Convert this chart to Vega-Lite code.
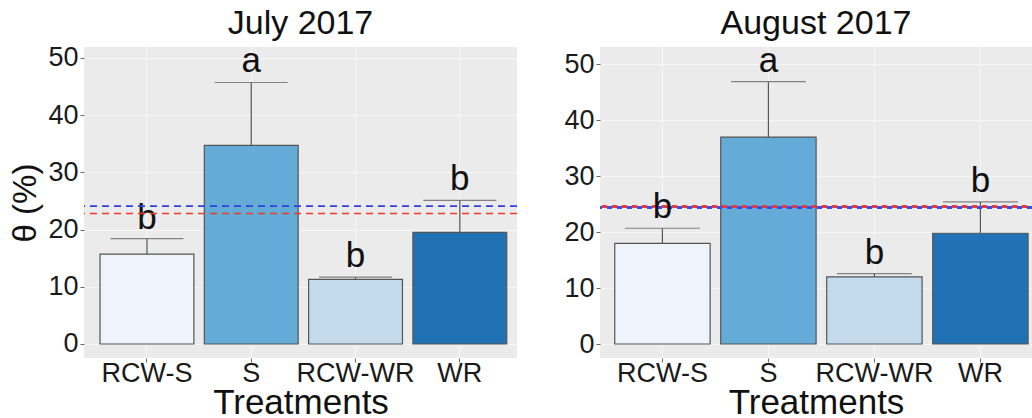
{
  "$schema": "https://vega.github.io/schema/vega-lite/v6.json",
  "background": "white",
  "padding": {"left": 9, "top": 6, "right": 0, "bottom": 0},
  "spacing": 45,
  "config": {
    "font": "Liberation Sans",
    "view": {"fill": "#ebebeb", "stroke": null},
    "axis": {
      "labelFont": "Liberation Sans",
      "labelFontSize": 27,
      "labelColor": "#1a1a1a",
      "tickColor": "#666666",
      "tickSize": 4,
      "domain": false,
      "gridColor": "#f6f6f6",
      "gridWidth": 1,
      "titleFont": "Liberation Sans",
      "titleFontWeight": "normal",
      "titleFontSize": 35,
      "titleColor": "#111111",
      "labelPadding": 2
    },
    "axisX": {"labelAngle": 0, "labelPadding": -2, "titlePadding": -1},
    "axisY": {"titlePadding": 5, "titleFontSize": 33},
    "title": {
      "font": "Liberation Sans",
      "fontSize": 34,
      "fontWeight": "normal",
      "color": "#111111",
      "anchor": "middle",
      "offset": 3
    }
  },
  "datasets": {
    "bars": [
      {"month": "July 2017", "treatment": "RCW-S", "theta": 15.7, "upper": 18.4, "group": "b"},
      {"month": "July 2017", "treatment": "S", "theta": 34.7, "upper": 45.7, "group": "a"},
      {"month": "July 2017", "treatment": "RCW-WR", "theta": 11.3, "upper": 11.7, "group": "b"},
      {"month": "July 2017", "treatment": "WR", "theta": 19.5, "upper": 25.1, "group": "b"},
      {"month": "August 2017", "treatment": "RCW-S", "theta": 18.0, "upper": 20.7, "group": "b"},
      {"month": "August 2017", "treatment": "S", "theta": 37.0, "upper": 46.9, "group": "a"},
      {"month": "August 2017", "treatment": "RCW-WR", "theta": 12.0, "upper": 12.6, "group": "b"},
      {"month": "August 2017", "treatment": "WR", "theta": 19.8, "upper": 25.4, "group": "b"}
    ],
    "refs": [
      {"month": "July 2017", "series": "blue", "theta": 24.1},
      {"month": "July 2017", "series": "red", "theta": 22.8},
      {"month": "August 2017", "series": "blue", "theta": 24.4},
      {"month": "August 2017", "series": "red", "theta": 24.6}
    ]
  },
  "hconcat": [
    {
      "title": "July 2017",
      "width": 433,
      "height": 311,
      "layer": [
        {
          "data": {"name": "bars"},
          "transform": [{"filter": "datum.month === 'July 2017'"}],
          "mark": {"type": "bar", "stroke": "#555555", "strokeWidth": 1.2},
          "encoding": {
            "x": {
              "field": "treatment", "type": "nominal",
              "sort": ["RCW-S", "S", "RCW-WR", "WR"],
              "scale": {"paddingInner": 0.1, "paddingOuter": 0.126, "align": 0.61},
              "axis": {"title": "Treatments", "grid": true}
            },
            "y": {
              "field": "theta", "type": "quantitative",
              "scale": {"domain": [-2.45, 51.9], "nice": false, "zero": false},
              "axis": {"title": "θ (%)", "values": [0, 10, 20, 30, 40, 50], "grid": true}
            },
            "y2": {"datum": 0},
            "fill": {
              "field": "treatment", "type": "nominal",
              "scale": {"domain": ["RCW-S", "S", "RCW-WR", "WR"], "range": ["#eef3fc", "#65abd7", "#c3daed", "#2171b5"]},
              "legend": null
            }
          }
        },
        {
          "data": {"name": "bars"},
          "transform": [{"filter": "datum.month === 'July 2017'"}],
          "mark": {"type": "rule", "color": "#555555", "strokeWidth": 1.2},
          "encoding": {
            "x": {"field": "treatment", "type": "nominal", "sort": ["RCW-S", "S", "RCW-WR", "WR"]},
            "y": {"field": "theta", "type": "quantitative"},
            "y2": {"field": "upper"}
          }
        },
        {
          "data": {"name": "bars"},
          "transform": [{"filter": "datum.month === 'July 2017'"}],
          "mark": {"type": "tick", "color": "#555555", "size": 73, "thickness": 1.2},
          "encoding": {
            "x": {"field": "treatment", "type": "nominal", "sort": ["RCW-S", "S", "RCW-WR", "WR"]},
            "y": {"field": "upper", "type": "quantitative"}
          }
        },
        {
          "data": {"name": "bars"},
          "transform": [{"filter": "datum.month === 'July 2017'"}],
          "mark": {"type": "text", "fontSize": 35, "baseline": "alphabetic", "dy": -10, "color": "#111111"},
          "encoding": {
            "x": {"field": "treatment", "type": "nominal", "sort": ["RCW-S", "S", "RCW-WR", "WR"]},
            "y": {"field": "upper", "type": "quantitative"},
            "text": {"field": "group"}
          }
        },
        {
          "data": {"name": "refs"},
          "transform": [{"filter": "datum.month === 'July 2017'"}],
          "mark": {"type": "rule", "strokeWidth": 1.6, "strokeDash": [7, 5]},
          "encoding": {
            "y": {"field": "theta", "type": "quantitative"},
            "stroke": {
              "field": "series", "type": "nominal",
              "scale": {"domain": ["blue", "red"], "range": ["#2f3fe0", "#ee3a2a"]},
              "legend": null
            }
          }
        }
      ]
    },
    {
      "title": "August 2017",
      "width": 432,
      "height": 311,
      "layer": [
        {
          "data": {"name": "bars"},
          "transform": [{"filter": "datum.month === 'August 2017'"}],
          "mark": {"type": "bar", "stroke": "#555555", "strokeWidth": 1.2},
          "encoding": {
            "x": {
              "field": "treatment", "type": "nominal",
              "sort": ["RCW-S", "S", "RCW-WR", "WR"],
              "scale": {"paddingInner": 0.1, "paddingOuter": 0.088, "align": 0.79},
              "axis": {"title": "Treatments", "grid": true}
            },
            "y": {
              "field": "theta", "type": "quantitative",
              "scale": {"domain": [-2.5, 53.1], "nice": false, "zero": false},
              "axis": {"title": null, "values": [0, 10, 20, 30, 40, 50], "grid": true}
            },
            "y2": {"datum": 0},
            "fill": {
              "field": "treatment", "type": "nominal",
              "scale": {"domain": ["RCW-S", "S", "RCW-WR", "WR"], "range": ["#eef3fc", "#65abd7", "#c3daed", "#2171b5"]},
              "legend": null
            }
          }
        },
        {
          "data": {"name": "bars"},
          "transform": [{"filter": "datum.month === 'August 2017'"}],
          "mark": {"type": "rule", "color": "#555555", "strokeWidth": 1.2},
          "encoding": {
            "x": {"field": "treatment", "type": "nominal", "sort": ["RCW-S", "S", "RCW-WR", "WR"]},
            "y": {"field": "theta", "type": "quantitative"},
            "y2": {"field": "upper"}
          }
        },
        {
          "data": {"name": "bars"},
          "transform": [{"filter": "datum.month === 'August 2017'"}],
          "mark": {"type": "tick", "color": "#555555", "size": 75, "thickness": 1.2},
          "encoding": {
            "x": {"field": "treatment", "type": "nominal", "sort": ["RCW-S", "S", "RCW-WR", "WR"]},
            "y": {"field": "upper", "type": "quantitative"}
          }
        },
        {
          "data": {"name": "refs"},
          "transform": [{"filter": "datum.month === 'August 2017' && datum.series === 'blue'"}],
          "mark": {"type": "rule", "strokeWidth": 3, "strokeDash": [5, 5], "stroke": "#3a4ee6"},
          "encoding": {"y": {"field": "theta", "type": "quantitative"}}
        },
        {
          "data": {"name": "refs"},
          "transform": [{"filter": "datum.month === 'August 2017' && datum.series === 'red'"}],
          "mark": {"type": "rule", "strokeWidth": 3, "strokeDash": [5, 5], "strokeDashOffset": 5, "stroke": "#e83a3a"},
          "encoding": {"y": {"field": "theta", "type": "quantitative"}}
        },
        {
          "data": {"name": "bars"},
          "transform": [{"filter": "datum.month === 'August 2017'"}],
          "mark": {"type": "text", "fontSize": 35, "baseline": "alphabetic", "dy": -10, "color": "#111111"},
          "encoding": {
            "x": {"field": "treatment", "type": "nominal", "sort": ["RCW-S", "S", "RCW-WR", "WR"]},
            "y": {"field": "upper", "type": "quantitative"},
            "text": {"field": "group"}
          }
        }
      ]
    }
  ]
}
